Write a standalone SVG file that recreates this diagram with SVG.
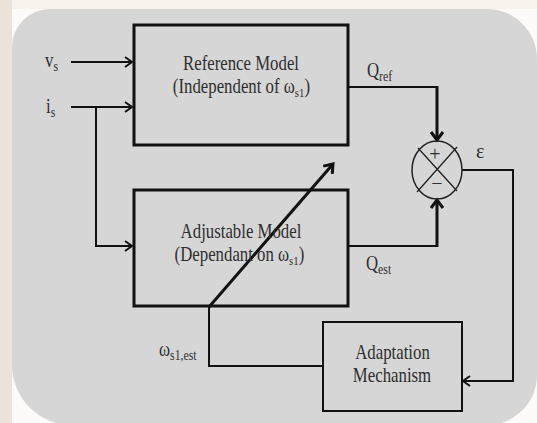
<svg xmlns="http://www.w3.org/2000/svg" width="537" height="423" viewBox="0 0 537 423">
<style>
.t{font-family:"Liberation Serif","Times New Roman",serif;fill:#2e2e2e;font-size:20px}
.m{text-anchor:middle}
.box{fill:none;stroke:#111;stroke-width:3}
.box2{fill:none;stroke:#111;stroke-width:2}
.ln{fill:none;stroke:#111;stroke-width:2;stroke-linejoin:miter}
.lt{fill:none;stroke:#111;stroke-width:3}
</style>
<defs>
<marker id="a" markerUnits="userSpaceOnUse" markerWidth="14" markerHeight="14" viewBox="-10 -7 12 14" refX="0" refY="0" orient="auto">
<path d="M-7,-5 L0,0 L-7,5" fill="none" stroke="#111" stroke-width="2"/>
</marker>
<marker id="b" markerUnits="userSpaceOnUse" markerWidth="16" markerHeight="16" viewBox="-11 -8 13 16" refX="0" refY="0" orient="auto">
<path d="M-8,-6 L0,0 L-8,6" fill="none" stroke="#111" stroke-width="3"/>
</marker>
</defs>
<rect x="0" y="0" width="537" height="423" fill="#fcfbfa"/>
<rect x="0" y="0" width="537" height="9" fill="#f7f2ec"/>
<rect x="0" y="0" width="12" height="423" fill="#ece4da"/>
<path d="M12,47 A38,38 0 0 1 50,9 H487 A50,50 0 0 1 537,59 V375 A50,50 0 0 1 487,425 H72 A60,60 0 0 1 12,365 Z" fill="#d6d6d6"/>

<g id="connectors">
<path class="ln" d="M71,62 H132" marker-end="url(#a)"/>
<path class="ln" d="M71,107 H132" marker-end="url(#a)"/>
<path class="ln" d="M96,107 V246 H132" marker-end="url(#a)"/>
<path class="ln" d="M349,87 H437"/>
<path class="lt" d="M437,86 V140" marker-end="url(#b)"/>
<path class="ln" d="M349,246 H437"/>
<path class="lt" d="M437,247 V200" marker-end="url(#b)"/>
<path class="ln" d="M462,170 H513 V381 H463" marker-end="url(#a)"/>
<path class="ln" d="M322,366 H209 V306"/>
<path class="lt" d="M209,307 L333,164" marker-end="url(#b)"/>
</g>

<g id="ref-model">
<rect class="box" x="134" y="25" width="214" height="120"/>
<text class="t m" transform="translate(241,70) scale(0.84,1)">Reference Model</text>
<text class="t m" transform="translate(241.5,93) scale(0.84,1)">(Independent of ω<tspan font-size="13" dy="4">s1</tspan><tspan dy="-4">)</tspan></text>
</g>

<g id="adj-model">
<rect class="box" x="134" y="190" width="214" height="116"/>
<text class="t m" transform="translate(241,238) scale(0.84,1)">Adjustable Model</text>
<text class="t m" transform="translate(239.5,261) scale(0.84,1)">(Dependant on ω<tspan font-size="13" dy="4">s1</tspan><tspan dy="-4">)</tspan></text>
</g>

<g id="adaptation">
<rect class="box2" x="323" y="322" width="139" height="89"/>
<text class="t m" transform="translate(392.5,359) scale(0.84,1)">Adaptation</text>
<text class="t m" transform="translate(392,382) scale(0.84,1)">Mechanism</text>
</g>

<g id="sum">
<ellipse cx="437" cy="170" rx="25" ry="29" fill="none" stroke="#222" stroke-width="1.5"/>
<path d="M418,148 L457,191 M457,147 L417,192" stroke="#222" stroke-width="1.3" fill="none"/>
<text class="t m" x="435" y="161" font-size="16">+</text>
<text class="t m" x="437" y="190" font-size="16">−</text>
</g>

<g id="labels">
<text class="t" transform="translate(45,67) scale(0.84,1)" font-size="22">v<tspan font-size="14" dy="4">s</tspan></text>
<text class="t" transform="translate(46,113) scale(0.84,1)" font-size="22">i<tspan font-size="14" dy="4">s</tspan></text>
<text class="t" transform="translate(367,77) scale(0.84,1)" font-size="22">Q<tspan font-size="14" dy="4">ref</tspan></text>
<text class="t" transform="translate(366,270) scale(0.84,1)" font-size="22">Q<tspan font-size="14" dy="4">est</tspan></text>
<text class="t" x="476" y="158" font-size="19">ε</text>
<text class="t" transform="translate(159,356) scale(0.84,1)" font-size="20">ω<tspan font-size="14" dy="4">s1,est</tspan></text>
</g>
</svg>
